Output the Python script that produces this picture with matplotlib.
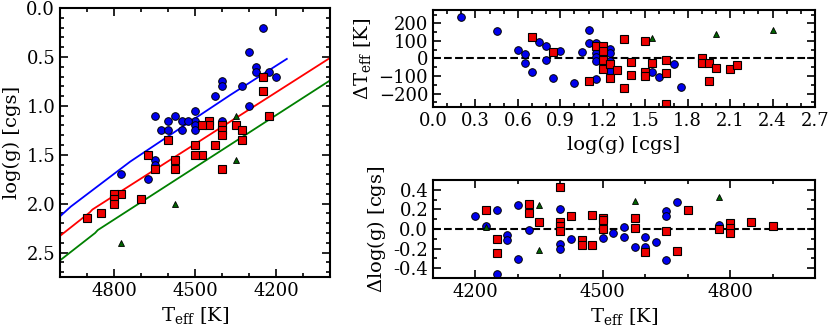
import numpy as np
import matplotlib
matplotlib.use("Agg")
import matplotlib.pyplot as plt
from matplotlib.ticker import MultipleLocator

plt.rcParams["font.family"] = ["DejaVu Serif"]
plt.rcParams["mathtext.fontset"] = "dejavuserif"
plt.rcParams["font.size"] = 13

# left panel: Teff vs log(g)
blue_teff = [4250, 4300, 4275, 4275, 4225, 4200, 4325, 4400, 4400, 4425, 4300,
             4500, 4500, 4500, 4500, 4650, 4575, 4600, 4550, 4525, 4625, 4600,
             4550, 4400, 4650, 4650, 4675, 4775]
blue_logg = [0.20, 0.45, 0.60, 0.65, 0.65, 0.70, 0.80, 0.75, 0.80, 0.90, 1.00,
             1.05, 1.15, 1.20, 1.25, 1.10, 1.10, 1.15, 1.15, 1.15, 1.25, 1.25,
             1.25, 1.15, 1.55, 1.60, 1.75, 1.70]
red_teff = [4250, 4250, 4225, 4350, 4325, 4325, 4400, 4400, 4400, 4400, 4425,
            4450, 4450, 4475, 4475, 4500, 4500, 4600, 4575, 4575, 4650, 4675,
            4700, 4775, 4800, 4800, 4800, 4850, 4900]
red_logg = [0.70, 0.85, 1.10, 1.20, 1.25, 1.35, 1.20, 1.25, 1.30, 1.65, 1.40,
            1.15, 1.20, 1.20, 1.50, 1.40, 1.50, 1.35, 1.55, 1.65, 1.65, 1.50,
            1.95, 1.90, 1.90, 1.95, 2.00, 2.10, 2.15]
green_teff = [4350, 4350, 4575, 4775]
green_logg = [1.10, 1.55, 2.00, 2.40]

# relations drawn as lines
blue_line_teff = [5000, 4960, 4740, 4550, 4370, 4160]
blue_line_logg = [2.13, 2.03, 1.57, 1.22, 0.89, 0.52]
red_line_teff = [5000, 4890, 4880, 4000]
red_line_logg = [2.33, 2.09, 2.06, 0.51]
green_line_teff = [5000, 4870, 4860, 4000]
green_line_logg = [2.58, 2.30, 2.27, 0.74]

# top right: delta Teff vs log(g)
dt_blue_logg = [0.20, 0.45, 0.60, 0.65, 0.65, 0.70, 0.75, 0.80, 0.80, 0.85,
                0.90, 1.00, 1.05, 1.10, 1.10, 1.15, 1.15, 1.15, 1.15, 1.15,
                1.25, 1.25, 1.25, 1.25, 1.55, 1.60, 1.70, 1.75]
dt_blue = [237, 155, 51, 25, -27, -78, 97, 70, -8, -110,
           42, -138, 38, 165, 87, 87, 34, 8, -17, -118,
           57, 30, -17, -70, -78, -106, -32, -161]
dt_red_logg = [0.70, 0.85, 1.10, 1.15, 1.20, 1.20, 1.20, 1.20, 1.25, 1.25,
               1.30, 1.35, 1.35, 1.40, 1.40, 1.50, 1.50, 1.50, 1.55, 1.65,
               1.65, 1.65, 1.90, 1.90, 1.95, 1.95, 2.00, 2.10, 2.15]
dt_red = [123, 38, -129, 72, 70, 42, -9, -59, -34, -110,
          -64, 112, -167, -21, -95, 102, -76, -102, -27, -8,
          -83, -262, 4, -23, -23, -127, -53, -59, -36]
dt_green_logg = [1.10, 1.55, 2.00, 2.40]
dt_green = [-135, 117, 140, 163]

# bottom right: delta log(g) vs Teff
dg_blue_teff = [4200, 4225, 4250, 4250, 4275, 4275, 4300, 4300, 4325, 4400,
                4400, 4400, 4425, 4500, 4500, 4525, 4550, 4550, 4575, 4600,
                4600, 4625, 4650, 4650, 4650, 4675, 4775]
dg_blue = [0.13, 0.03, 0.19, -0.46, -0.06, -0.11, 0.24, -0.31, -0.01, 0.20,
           -0.15, -0.20, -0.10, 0.06, -0.09, -0.04, 0.02, -0.08, -0.18, -0.08,
           -0.18, -0.13, 0.18, 0.13, -0.32, 0.28, 0.04]
dg_red_teff = [4225, 4250, 4250, 4325, 4325, 4350, 4400, 4400, 4400, 4400,
               4425, 4450, 4450, 4475, 4475, 4500, 4500, 4500, 4575, 4575,
               4600, 4650, 4675, 4700, 4775, 4800, 4800, 4800, 4850, 4900]
dg_red = [0.19, -0.10, -0.25, 0.26, 0.16, 0.07, 0.43, 0.07, 0.03, -0.02,
          0.13, -0.11, -0.16, 0.14, -0.16, 0.11, 0.09, 0.00, 0.11, 0.01,
          -0.23, -0.02, -0.22, 0.19, 0.00, 0.06, 0.01, -0.04, 0.07, 0.03]
dg_green_teff = [4225, 4350, 4350, 4575, 4775]
dg_green = [0.02, 0.24, -0.21, 0.29, 0.33]

fig = plt.figure(figsize=(8.3, 3.3), dpi=100)
ax1 = fig.add_axes([0.0723, 0.1606, 0.3253, 0.815])
ax2 = fig.add_axes([0.5217, 0.6758, 0.4602, 0.2939])
ax3 = fig.add_axes([0.5217, 0.1576, 0.4602, 0.2970])

blue_kw = dict(ls="none", marker="o", ms=5.5, mfc="#0000ee", mec="k", mew=0.7)
red_kw = dict(ls="none", marker="s", ms=5.2, mfc="#ee0000", mec="k", mew=0.8)
green_kw = dict(ls="none", marker="^", ms=5, mfc="#006400", mec="k", mew=0.6)


def style(ax):
    for s in ax.spines.values():
        s.set_linewidth(1.5)
    ax.tick_params(which="both", direction="in", top=True, right=True, width=1.2)
    ax.tick_params(which="major", length=6, labelsize=13)
    ax.tick_params(which="minor", length=3)


ax1.plot(blue_line_teff, blue_line_logg, color="#0000ff", lw=1.3)
ax1.plot(red_line_teff, red_line_logg, color="#ff0000", lw=1.3)
ax1.plot(green_line_teff, green_line_logg, color="#008000", lw=1.3)
ax1.plot(blue_teff, blue_logg, **blue_kw)
ax1.plot(red_teff, red_logg, **red_kw)
ax1.plot(green_teff, green_logg, **green_kw)
ax1.set_xlim(5000, 4000)
ax1.set_ylim(2.75, 0.0)
ax1.xaxis.set_major_locator(MultipleLocator(300))
ax1.xaxis.set_minor_locator(MultipleLocator(100))
ax1.set_xticks([4800, 4500, 4200])
ax1.yaxis.set_major_locator(MultipleLocator(0.5))
ax1.yaxis.set_minor_locator(MultipleLocator(0.1))
ax1.yaxis.set_major_formatter(plt.FormatStrFormatter("%.1f"))
ax1.set_xlabel(r"$\mathrm{T_{eff}}$ [K]", fontsize=14)
ax1.set_ylabel("log(g) [cgs]", fontsize=14)
style(ax1)

ax2.axhline(0, color="k", ls="--", lw=1.5)
ax2.plot(dt_blue_logg, dt_blue, **blue_kw)
ax2.plot(dt_green_logg, dt_green, **green_kw)
ax2.plot(dt_red_logg, dt_red, **red_kw)
ax2.set_xlim(0, 2.7)
ax2.set_ylim(-277, 277)
ax2.xaxis.set_major_locator(MultipleLocator(0.3))
ax2.xaxis.set_minor_locator(MultipleLocator(0.1))
ax2.xaxis.set_major_formatter(plt.FormatStrFormatter("%.1f"))
ax2.yaxis.set_major_locator(MultipleLocator(100))
ax2.yaxis.set_minor_locator(MultipleLocator(50))
ax2.set_xlabel("log(g) [cgs]", fontsize=14)
ax2.set_ylabel(r"$\Delta\mathrm{T_{eff}}$ [K]", fontsize=14)
style(ax2)

ax3.axhline(0, color="k", ls="--", lw=1.5)
ax3.plot(dg_blue_teff, dg_blue, **blue_kw)
ax3.plot(dg_green_teff, dg_green, **green_kw)
ax3.plot(dg_red_teff, dg_red, **red_kw)
ax3.set_xlim(4100, 5000)
ax3.set_ylim(-0.5, 0.5)
ax3.set_xticks([4200, 4500, 4800])
ax3.xaxis.set_minor_locator(MultipleLocator(100))
ax3.yaxis.set_major_locator(MultipleLocator(0.2))
ax3.yaxis.set_minor_locator(MultipleLocator(0.1))
ax3.yaxis.set_major_formatter(plt.FormatStrFormatter("%.1f"))
ax3.set_xlabel(r"$\mathrm{T_{eff}}$ [K]", fontsize=14)
ax3.set_ylabel(r"$\Delta$log(g) [cgs]", fontsize=14)
style(ax3)

fig.savefig("out.png", dpi=100)
